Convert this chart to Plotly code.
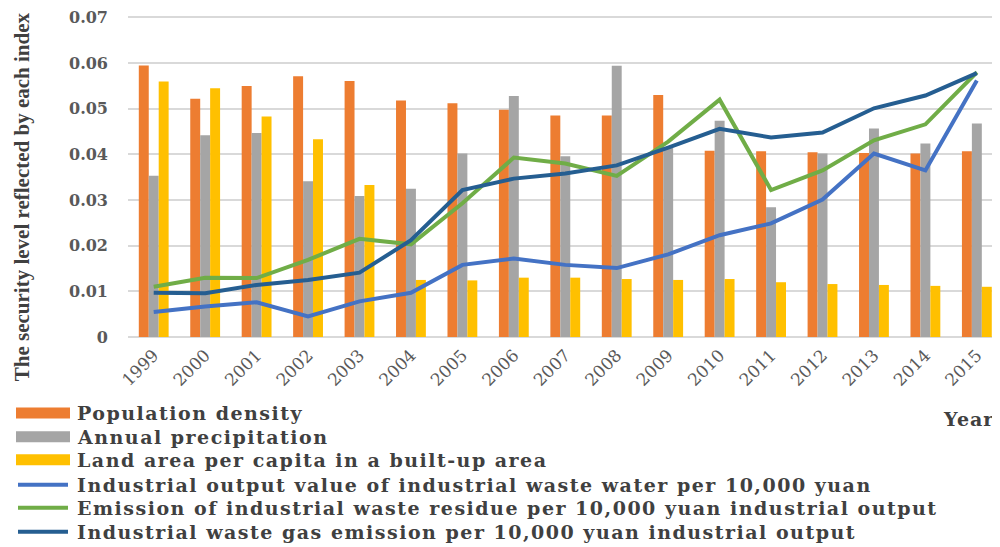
import plotly.graph_objects as go

years = [str(y) for y in range(1999, 2016)]

population_density = [0.0595, 0.0522, 0.0550, 0.0571, 0.0561, 0.0518, 0.0512, 0.0498, 0.0485,
                      0.0485, 0.0530, 0.0408, 0.0407, 0.0405, 0.0403, 0.0402, 0.0407]
annual_precipitation = [0.0353, 0.0442, 0.0447, 0.0341, 0.0309, 0.0325, 0.0402, 0.0528, 0.0396,
                        0.0594, 0.0415, 0.0474, 0.0284, 0.0402, 0.0457, 0.0424, 0.0468]
land_area_per_capita = [0.0560, 0.0545, 0.0483, 0.0433, 0.0333, 0.0125, 0.0124, 0.0130, 0.0130,
                        0.0127, 0.0125, 0.0127, 0.0120, 0.0116, 0.0114, 0.0112, 0.0110]
waste_water = [0.0055, 0.0067, 0.0076, 0.0045, 0.0078, 0.0097, 0.0158, 0.0172, 0.0158,
               0.0151, 0.0181, 0.0223, 0.0249, 0.0301, 0.0402, 0.0365, 0.0562]
waste_residue = [0.0110, 0.0130, 0.0129, 0.0169, 0.0215, 0.0203, 0.0293, 0.0393, 0.0380,
                 0.0353, 0.0428, 0.0520, 0.0322, 0.0365, 0.0431, 0.0466, 0.0580]
waste_gas = [0.0097, 0.0096, 0.0114, 0.0125, 0.0141, 0.0212, 0.0322, 0.0347, 0.0358,
             0.0376, 0.0415, 0.0456, 0.0437, 0.0448, 0.0501, 0.0529, 0.0578]

y_tick_values = [0, 0.01, 0.02, 0.03, 0.04, 0.05, 0.06, 0.07]
y_tick_labels = ["0", "0.01", "0.02", "0.03", "0.04", "0.05", "0.06", "0.07"]

bar_names = ["Population density", "Annual precipitation", "Land area per capita in a built-up area"]
line_names = ["Industrial output value of industrial waste water per 10,000 yuan",
              "Emission of industrial waste residue per 10,000 yuan industrial output",
              "Industrial waste gas emission per 10,000 yuan industrial output"]
y_title = "The security level reflected by each index"
x_title = "Year"

bar_colors = ["#ED7D31", "#A5A5A5", "#FFC000"]
line_colors = ["#4472C4", "#70AD47", "#255E91"]

# page body has an 8px default margin; compensate so the figure fills the window
OFF = 8
W, H = 1000 - OFF, 547 - OFF
Y_TOP = 0.0712          # a bit of headroom so the 0.07 gridline/label is kept
PX_PER_UNIT = 320 / 0.07
TOP_PX = 337 - Y_TOP * PX_PER_UNIT   # screen y of the plot-area top
L, R, T, B = 128 - OFF, 0, TOP_PX - OFF, 547 - 337
pw, ph = W - L - R, H - T - B


def px(x):
    return (x - OFF - L) / pw


def py(y):
    return (H - B - (y - OFF)) / ph


fig = go.Figure()
for name, vals, c in zip(bar_names, [population_density, annual_precipitation, land_area_per_capita], bar_colors):
    fig.add_trace(go.Bar(x=years, y=vals, name=name, marker=dict(color=c, line=dict(width=0)),
                         showlegend=False))
for name, vals, c in zip(line_names, [waste_water, waste_residue, waste_gas], line_colors):
    fig.add_trace(go.Scatter(x=years, y=vals, name=name, mode="lines",
                             line=dict(color=c, width=4), showlegend=False))

serif_wide = "DejaVu Serif"
text_col = "#404040"

fig.update_layout(
    width=W, height=H,
    margin=dict(l=L, r=R, t=T, b=B, pad=0),
    paper_bgcolor="white", plot_bgcolor="white",
    barmode="group", bargap=0.42, bargroupgap=0,
    showlegend=False,
    xaxis=dict(type="category", range=[-0.5, 16.45], tickangle=-45,
               tickfont=dict(family=serif_wide, size=17, color="#595959"),
               showgrid=False, showline=False, ticks="", ticklabelstandoff=4),
    yaxis=dict(range=[0, Y_TOP], tickvals=y_tick_values, ticktext=y_tick_labels,
               tickfont=dict(family=serif_wide, size=16, color="#595959", weight="bold"),
               showgrid=True, gridcolor="#D9D9D9", gridwidth=1.5,
               zeroline=True, zerolinecolor="#D9D9D9", zerolinewidth=1.5,
               ticks="", ticklabelstandoff=19),
)


def spaced(s, sp):
    return '<span style="letter-spacing:%spx">%s</span>' % (sp, s)


annotations = [
    dict(text=y_title, x=px(22), y=py(197), xref="paper", yref="paper", textangle=-90,
         showarrow=False, font=dict(family="Liberation Serif", size=21, color=text_col, weight="bold"),
         xanchor="center", yanchor="middle"),
    dict(text=spaced(x_title, 1), x=px(996), y=py(419), xref="paper", yref="paper",
         showarrow=False, font=dict(family=serif_wide, size=19, color=text_col, weight="bold"),
         xanchor="right", yanchor="middle"),
]
shapes = []
rows = [413, 437, 460, 485, 508, 532]
for i, (name, c) in enumerate(zip(bar_names, bar_colors)):
    yc = rows[i]
    shapes.append(dict(type="rect", xref="paper", yref="paper", x0=px(16), x1=px(70),
                       y0=py(yc + 5.5), y1=py(yc - 5.5), fillcolor=c, line=dict(width=0)))
for j, (name, c) in enumerate(zip(line_names, line_colors)):
    yc = rows[3 + j]
    shapes.append(dict(type="line", xref="paper", yref="paper", x0=px(18), x1=px(68),
                       y0=py(yc), y1=py(yc), line=dict(color=c, width=4)))
for i, name in enumerate(bar_names + line_names):
    annotations.append(dict(text=spaced(name, 1.5), x=px(75), y=py(rows[i]), xref="paper", yref="paper",
                            showarrow=False, xanchor="left", yanchor="middle",
                            font=dict(family=serif_wide, size=19, color=text_col, weight="bold")))

fig.update_layout(annotations=annotations, shapes=shapes)
fig.write_html("out.html")
